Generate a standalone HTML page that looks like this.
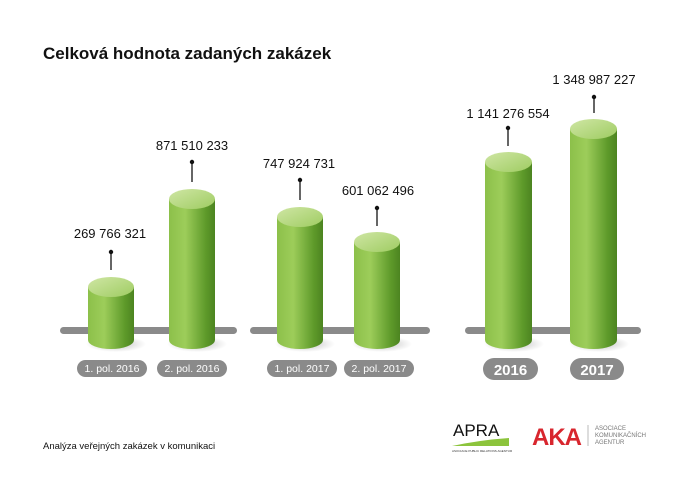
<!DOCTYPE html><html><head><style>body{margin:0;background:#fff}svg{display:block}</style></head><body>
<svg width="700" height="495" xmlns="http://www.w3.org/2000/svg" font-family="Liberation Sans, sans-serif">
<defs>
<linearGradient id="g" x1="0" x2="1"><stop offset="0" stop-color="#8cc04a"/><stop offset=".35" stop-color="#9dcd5a"/><stop offset=".8" stop-color="#5e9a2a"/><stop offset="1" stop-color="#4c8420"/></linearGradient>
<linearGradient id="t" x1="0" y1="0" x2="1" y2="1"><stop offset="0" stop-color="#cfe6a4"/><stop offset="1" stop-color="#9fcc62"/></linearGradient>
<radialGradient id="sh"><stop offset="0" stop-color="#000" stop-opacity=".25"/><stop offset="1" stop-color="#000" stop-opacity="0"/></radialGradient>
</defs>
<text x="43" y="59" font-size="17" font-weight="bold" fill="#111">Celková hodnota zadaných zakázek</text>
<g fill="#8a8a8a"><rect x="60" y="327" width="177" height="7" rx="3.5"/><rect x="250" y="327" width="180" height="7" rx="3.5"/><rect x="465" y="327" width="176" height="7" rx="3.5"/></g>
<g id="bars">
<!-- x, w, top -->
</g>
<g>
<ellipse cx="116" cy="344" rx="30" ry="8" fill="url(#sh)"/>
<path d="M88 287 V340 A23 9 0 0 0 134 340 V287 Z" fill="url(#g)"/><ellipse cx="111" cy="287" rx="23" ry="10" fill="url(#t)"/>
<ellipse cx="197" cy="344" rx="30" ry="8" fill="url(#sh)"/>
<path d="M169 199 V340 A23 9 0 0 0 215 340 V199 Z" fill="url(#g)"/><ellipse cx="192" cy="199" rx="23" ry="10" fill="url(#t)"/>
<ellipse cx="305" cy="344" rx="30" ry="8" fill="url(#sh)"/>
<path d="M277 217 V340 A23 9 0 0 0 323 340 V217 Z" fill="url(#g)"/><ellipse cx="300" cy="217" rx="23" ry="10" fill="url(#t)"/>
<ellipse cx="382" cy="344" rx="30" ry="8" fill="url(#sh)"/>
<path d="M354 242 V340 A23 9 0 0 0 400 340 V242 Z" fill="url(#g)"/><ellipse cx="377" cy="242" rx="23" ry="10" fill="url(#t)"/>
<ellipse cx="514" cy="344" rx="30" ry="8" fill="url(#sh)"/>
<path d="M485 162 V340 A23.5 9 0 0 0 532 340 V162 Z" fill="url(#g)"/><ellipse cx="508.5" cy="162" rx="23.5" ry="10" fill="url(#t)"/>
<ellipse cx="599" cy="344" rx="30" ry="8" fill="url(#sh)"/>
<path d="M570 129 V340 A23.5 9 0 0 0 617 340 V129 Z" fill="url(#g)"/><ellipse cx="593.5" cy="129" rx="23.5" ry="10" fill="url(#t)"/>
</g>
<g stroke="#333" stroke-width="1.5"><line x1="111" y1="252" x2="111" y2="270"/><line x1="192" y1="162" x2="192" y2="182"/><line x1="300" y1="180" x2="300" y2="200"/><line x1="377" y1="208" x2="377" y2="226"/><line x1="508" y1="128" x2="508" y2="146"/><line x1="594" y1="97" x2="594" y2="113"/></g>
<g fill="#111"><circle cx="111" cy="252" r="2.2"/><circle cx="192" cy="162" r="2.2"/><circle cx="300" cy="180" r="2.2"/><circle cx="377" cy="208" r="2.2"/><circle cx="508" cy="128" r="2.2"/><circle cx="594" cy="97" r="2.2"/></g>
<g font-size="13" fill="#111" text-anchor="middle">
<text x="110" y="238">269 766 321</text><text x="192" y="150">871 510 233</text><text x="299" y="168">747 924 731</text><text x="378" y="195">601 062 496</text><text x="508" y="118">1 141 276 554</text><text x="594" y="84">1 348 987 227</text>
</g>
<g fill="#8a8a8a"><rect x="77" y="360" width="70" height="17" rx="8.5"/><rect x="157" y="360" width="70" height="17" rx="8.5"/><rect x="267" y="360" width="70" height="17" rx="8.5"/><rect x="344" y="360" width="70" height="17" rx="8.5"/><rect x="483" y="358" width="55" height="22" rx="11"/><rect x="570" y="358" width="54" height="22" rx="11"/></g>
<g fill="#fff" text-anchor="middle" font-size="10.5"><text x="112" y="372">1. pol. 2016</text><text x="192" y="372">2. pol. 2016</text><text x="302" y="372">1. pol. 2017</text><text x="379" y="372">2. pol. 2017</text>
<text x="510.5" y="375" font-size="15" font-weight="bold">2016</text><text x="597" y="375" font-size="15" font-weight="bold">2017</text></g>
<text x="43" y="449" font-size="9.5" fill="#111">Analýza veřejných zakázek v komunikaci</text>
<text x="453" y="436" font-size="17" fill="#111">APRA</text>
<path d="M452 446 Q480 440 509 438 L509 446 Z" fill="#8cc43c"/>
<text x="452" y="452" font-size="3" fill="#333">ASOCIACE PUBLIC RELATIONS AGENTUR</text>
<text x="532" y="445" font-size="24" font-weight="bold" fill="#d8262e" letter-spacing="-1">AKA</text>
<line x1="588" y1="425" x2="588" y2="446" stroke="#bbb"/>
<g font-size="6" fill="#777"><text x="595" y="430">ASOCIACE</text><text x="595" y="437">KOMUNIKAČNÍCH</text><text x="595" y="444">AGENTUR</text></g>
</svg></body></html>
